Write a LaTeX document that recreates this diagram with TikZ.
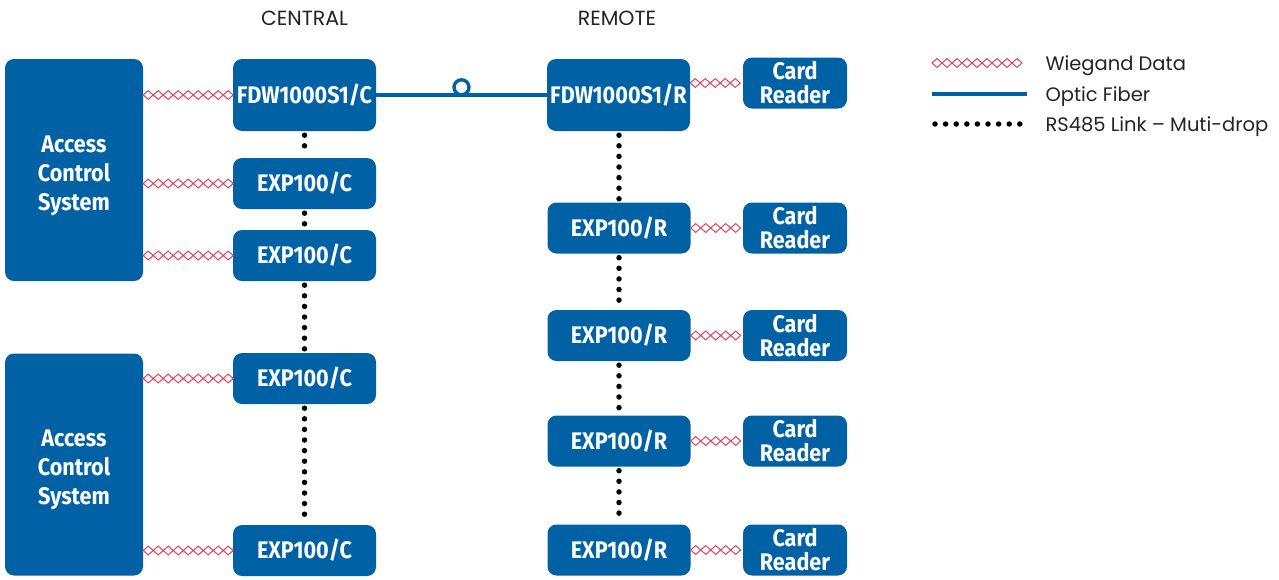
\documentclass[tikz,border=0pt]{standalone}
\usepackage{fontspec}
\setmainfont{Poppins}
\newfontfamily\boxfont[FakeStretch=0.9]{Fira Sans}
\usetikzlibrary{positioning,decorations.markings}
\definecolor{fdwblue}{RGB}{0,98,165}
\definecolor{wgred}{RGB}{222,66,95}
\definecolor{legendtext}{RGB}{35,35,35}

\begin{document}
\begin{tikzpicture}[x=1pt,y=-1pt,
    unit/.style={%
      fill=fdwblue,
      rounded corners=9pt,
      text=white,
      font=\boxfont\bfseries\fontsize{24}{29}\selectfont,
      inner sep=0pt,
      align=center,
      minimum width=143pt,
      minimum height=51pt,
    },
    fdw/.style={unit, minimum height=72pt},
    acs/.style={unit, minimum width=138pt, minimum height=222pt},
    reader/.style={unit, minimum width=104pt, minimum height=51pt,
      font=\boxfont\bfseries\fontsize{24}{24}\selectfont},
    head/.style={font=\fontsize{20.5}{24}\selectfont, text=legendtext},
    legend/.style={font=\fontsize{19.5}{22}\selectfont, text=legendtext, anchor=west},
    wiegand/.style={%
      postaction={decorate},
      decoration={markings,
        mark=between positions 5pt and -2pt step 10pt with {%
          \draw [wgred, line width=1pt, sharp corners]
            (-5pt,0pt) -- (0pt,4.4pt) -- (5pt,0pt) -- (0pt,-4.4pt) -- cycle;}},
    },
    fiber/.style={fdwblue, line width=3.6pt},
    loop/.style={circle, draw=fdwblue, line width=3.4pt, fill=white,
      minimum size=15pt, inner sep=0pt},
    rs485/.style={black, line width=5.5pt, line cap=round,
      dash pattern=on 0pt off 10.6pt, shorten <=4pt, shorten >=3pt},
  ]
    \useasboundingbox (0,0) rectangle (1279,579);

    \node [head] (central) at (304.5,18) {CENTRAL};
    \node [head] (remote) at (617,18) {REMOTE};

    \node [acs] (acs1) at (74,170) {\rule{0pt}{28pt}Access\\Control\\System};
    \node [acs] (acs2) at (74,464.5) {\rule{0pt}{28pt}Access\\Control\\System};

    \node [fdw] (fdwc) at (304.5,95) {FDW1000S1/C};
    \node [unit] (expc1) at (304.5,183.5) {EXP100/C};
    \node [unit] (expc2) at (304.5,255.5) {EXP100/C};
    \node [unit] (expc3) at (304.5,378.5) {EXP100/C};
    \node [unit] (expc4) at (304.5,550.5) {EXP100/C};

    \node [fdw] (fdwr) at (618.5,95) {FDW1000S1/R};
    \node [unit] (expr1) at (619,228) {EXP100/R};
    \node [unit] (expr2) at (619,335.5) {EXP100/R};
    \node [unit] (expr3) at (619,441) {EXP100/R};
    \node [unit] (expr4) at (619,550) {EXP100/R};

    \node [reader] (cr1) at (795,83) {Card\\Reader};
    \node [reader] (cr2) at (795,228) {Card\\Reader};
    \node [reader] (cr3) at (795,335.5) {Card\\Reader};
    \node [reader] (cr4) at (795,441) {Card\\Reader};
    \node [reader] (cr5) at (795,550) {Card\\Reader};

    \path [wiegand] (acs1.east |- fdwc) -- (fdwc.west);
    \path [wiegand] (acs1.east |- expc1) -- (expc1.west);
    \path [wiegand] (acs1.east |- expc2) -- (expc2.west);
    \path [wiegand] (acs2.east |- expc3) -- (expc3.west);
    \path [wiegand] (acs2.east |- expc4) -- (expc4.west);

    \path [wiegand] (fdwr.east |- cr1) -- (cr1.west);
    \path [wiegand] (expr1.east) -- (cr2.west);
    \path [wiegand] (expr2.east) -- (cr3.west);
    \path [wiegand] (expr3.east) -- (cr4.west);
    \path [wiegand] (expr4.east) -- (cr5.west);

    \draw [fiber] (fdwc.east) -- (fdwr.west)
      node [loop, pos=0.5, anchor=south, yshift=-1.5pt] (fibloop) {};

    \draw [rs485] (fdwc.south) -- (expc1.north);
    \draw [rs485] (expc1.south) -- (expc2.north);
    \draw [rs485] (expc2.south) -- (expc3.north);
    \draw [rs485] (expc3.south) -- (expc4.north);

    \draw [rs485] (fdwr.south -| expr1) -- (expr1.north);
    \draw [rs485] (expr1.south) -- (expr2.north);
    \draw [rs485] (expr2.south) -- (expr3.north);
    \draw [rs485] (expr3.south) -- (expr4.north);

    \coordinate (wg1) at (932,63);
    \coordinate (wg2) at (1028,63);
    \coordinate (of1) at (932,94);
    \coordinate (of2) at (1027,94);
    \coordinate (rs1) at (935,124);
    \coordinate (rs2) at (1027,124);
    \path [wiegand] (wg1) -- (wg2);
    \draw [fiber] (of1) -- (of2);
    \draw [rs485, shorten <=0pt, shorten >=0pt] (rs1) -- (rs2);
    \node [legend] (wglabel) at (1042,66) {Wiegand Data};
    \node [legend] (oflabel) at (1042,97) {Optic Fiber};
    \node [legend] (rslabel) at (1042,127) {RS485 Link – Muti-drop};
\end{tikzpicture}
\end{document}
